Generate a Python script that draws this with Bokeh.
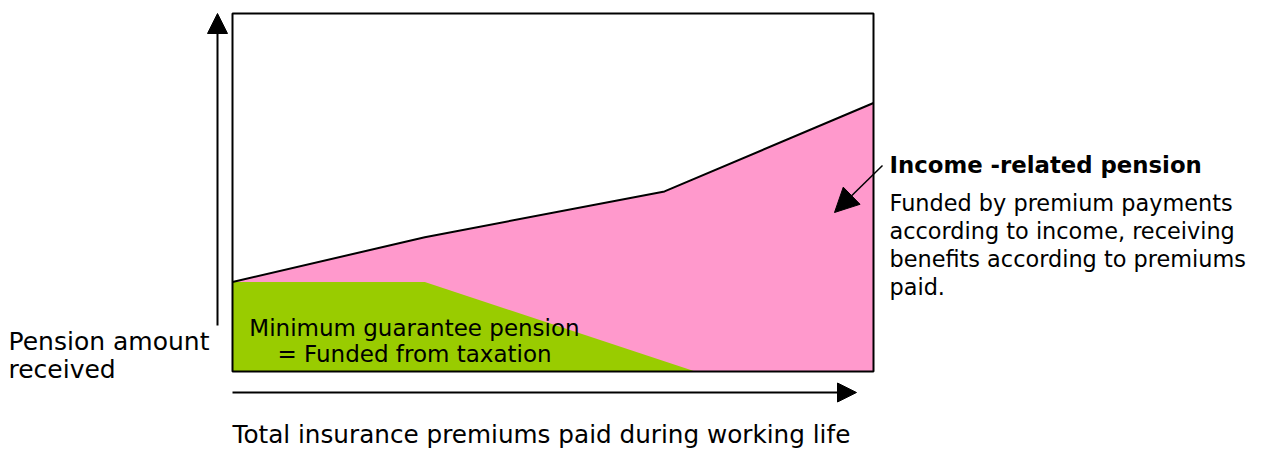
from bokeh.plotting import figure
from bokeh.models import Range1d, Arrow, NormalHead
from bokeh.core.properties import value
from bokeh.embed import file_html
from bokeh.resources import INLINE

# ---- data (relative units: 0-100 on each axis) ----
premium_paid = [0, 30, 67.4, 100]            # total premiums paid (x)
pension_total = [25, 37.5, 50.3, 75]         # income-related pension upper edge
guarantee_x = [0, 30, 72.2]                  # guarantee pension x points
guarantee_top = [25, 25, 0]                  # guarantee pension upper edge

y_label = ["Pension amount", "received"]
x_label = "Total insurance premiums paid during working life"
guarantee_text = ["Minimum guarantee pension", "= Funded from taxation"]
income_title = "Income -related pension"
income_text = ["Funded by premium payments", "according to income, receiving",
               "benefits according to premiums", "paid."]

# ---- layout (screen pixel geometry of the reference) ----
W, H = 1262, 450
BOX_L, BOX_R, BOX_T, BOX_B = 232, 873, 13, 371   # screen px
KX = (BOX_R - BOX_L) / 100.0
KY = (BOX_B - BOX_T) / 100.0

def dx(px):
    return (px - BOX_L) / KX

def dy(py):
    return (BOX_B - py) / KY

p = figure(width=W, height=H, output_backend="svg", toolbar_location=None,
           x_range=Range1d(dx(0), dx(W)), y_range=Range1d(dy(H), dy(0)),
           x_axis_type=None, y_axis_type=None, min_border=0,
           outline_line_color=None, background_fill_color="white",
           border_fill_color="white")
p.grid.visible = False

FONT = value("DejaVu Sans")
PINK = "#FF99CC"
GREEN = "#99CC00"

# income-related pension area
p.varea(x=premium_paid, y1=[0] * len(premium_paid), y2=pension_total, fill_color=PINK)
# guarantee pension area
p.varea(x=guarantee_x, y1=[0] * len(guarantee_x), y2=guarantee_top, fill_color=GREEN)
# upper edge line
p.line(x=premium_paid, y=pension_total, line_color="black", line_width=2)
# frame box
p.quad(left=[0], right=[100], bottom=[0], top=[100], fill_color=None,
       line_color="black", line_width=2)

# axis arrows
p.add_layout(Arrow(end=NormalHead(size=20, fill_color="black", line_color="black"),
                   x_start=dx(217), y_start=dy(325), x_end=dx(217), y_end=dy(13),
                   line_width=2, line_color="black"))
p.add_layout(Arrow(end=NormalHead(size=19, fill_color="black", line_color="black"),
                   x_start=dx(232), y_start=dy(392), x_end=dx(856), y_end=dy(392),
                   line_width=2, line_color="black"))
# pointer arrow
p.add_layout(Arrow(end=NormalHead(size=24, fill_color="black", line_color="black"),
                   x_start=dx(882), y_start=dy(165), x_end=dx(834), y_end=dy(212),
                   line_width=1.5, line_color="black"))

def txt(xs, ys, texts, size, align="left", bold=False):
    p.text(x=xs, y=ys, text=texts, text_font=FONT, text_font_size=size,
           text_font_style="bold" if bold else "normal",
           text_baseline="alphabetic", text_align=align, text_color="black")

txt([dx(8), dx(8)], [dy(341), dy(369)], y_label, "25px")
txt([dx(232)], [dy(434)], [x_label], "24.7px")
txt([dx(414), dx(414)], [dy(327), dy(353)], guarantee_text, "23px", align="center")
txt([dx(889)], [dy(164)], [income_title], "22.8px", bold=True)
txt([dx(889)] * 4, [dy(202), dy(230), dy(258), dy(286)], income_text, "22.4px")

open("out.html", "w").write(file_html(p, INLINE))
